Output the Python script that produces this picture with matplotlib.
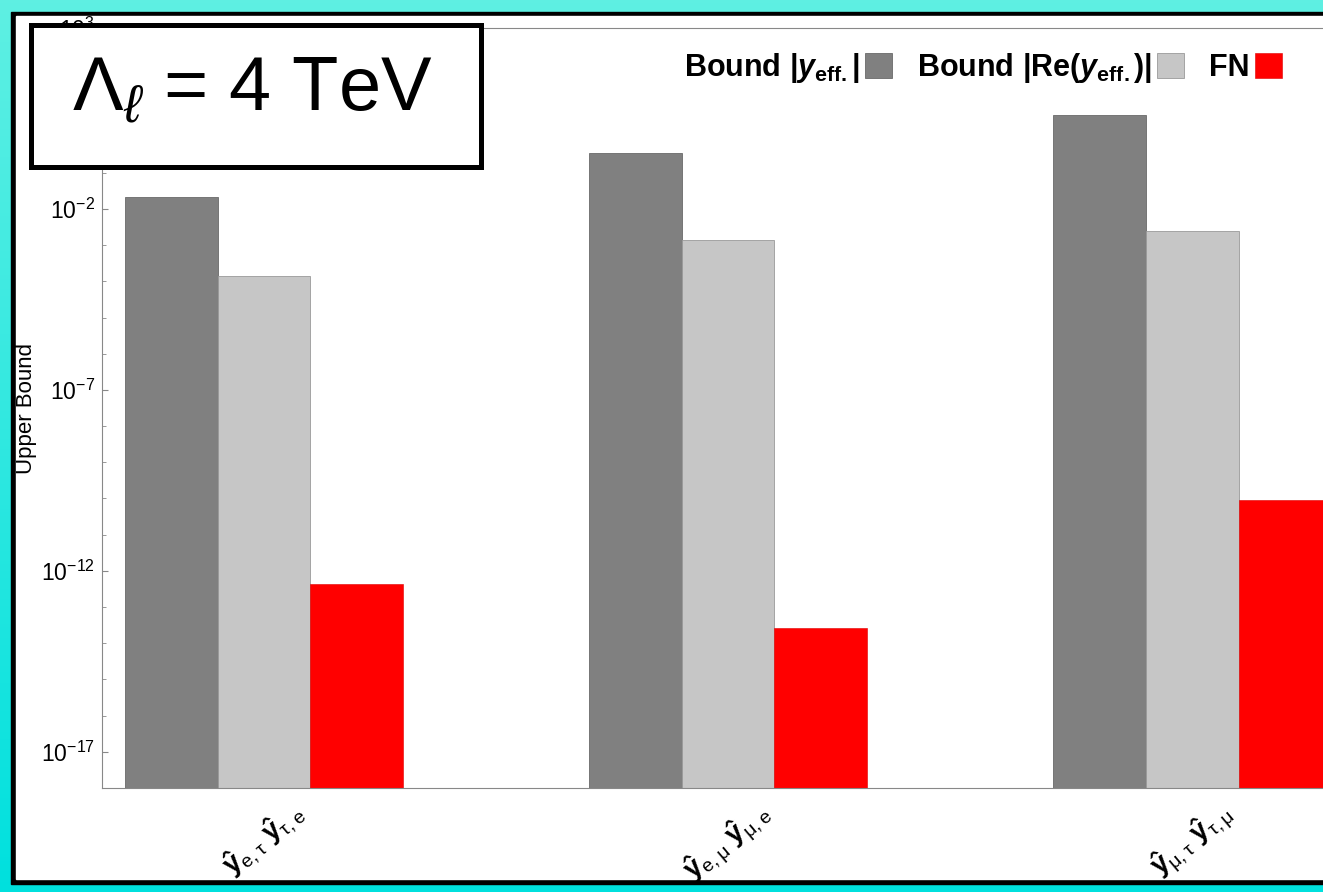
import numpy as np
import matplotlib
matplotlib.use("Agg")
import matplotlib.pyplot as plt
from matplotlib.patches import Rectangle

plt.rcParams["font.family"] = ["Liberation Sans", "DejaVu Sans"]
plt.rcParams["mathtext.fontset"] = "custom"
plt.rcParams["mathtext.rm"] = "Liberation Sans"
plt.rcParams["mathtext.it"] = "Liberation Sans:italic"
plt.rcParams["mathtext.bf"] = "Liberation Sans:bold"
plt.rcParams["mathtext.bfit"] = "Liberation Sans:bold:italic"

# data
pairs = [r"$\mathbf{\hat{y}}_{\mathrm{e,\tau}}\ \mathbf{\hat{y}}_{\mathrm{\tau,e}}$",
         r"$\mathbf{\hat{y}}_{\mathrm{e,\mu}}\ \mathbf{\hat{y}}_{\mathrm{\mu,e}}$",
         r"$\mathbf{\hat{y}}_{\mathrm{\mu,\tau}}\ \mathbf{\hat{y}}_{\mathrm{\tau,\mu}}$"]
bound_abs = [2.1e-2, 3.5e-1, 4.0]
bound_re = [1.4e-4, 1.4e-3, 2.45e-3]
fn_vals = [4.4e-13, 2.7e-14, 9.1e-11]
series_names = ["Bound |" + r"$\mathbfit{y}_{\mathbf{eff.}}$" + "|",
                "Bound |Re(" + r"$\mathbfit{y}_{\mathbf{eff.}}$" + ")|",
                "FN"]
title = r"$\Lambda_{\ell}$ = 4 TeV"

W, H = 1323, 892
fig = plt.figure(figsize=(W / 100, H / 100), dpi=100)


def fx(x):
    return x / W


def fy(y):
    return 1 - y / H


# background: cyan gradient, black frame, white page
bg = fig.add_axes([0, 0, 1, 1], zorder=-10)
grad = np.linspace(0, 1, 256).reshape(-1, 1)
top = np.array([0.37, 0.94, 0.89])
bot = np.array([0.0, 0.88, 0.87])
img = top + (bot - top) * grad[:, :, None]
bg.imshow(img, extent=[0, W, H, 0], aspect="auto")
bg.add_patch(Rectangle((11, 12), W + 10, 872, color="black"))
bg.add_patch(Rectangle((16, 16), W + 10, 863, color="white"))
bg.set_xlim(0, W)
bg.set_ylim(H, 0)
bg.axis("off")

ax = fig.add_axes([fx(102), fy(788), fx(1323) - fx(102), fy(28) - fy(788)])
x = np.arange(len(pairs))
w = 0.2
ax.bar(x - w, bound_abs, w, color="#808080", edgecolor="#6a6a6a", linewidth=0.6, label=series_names[0])
ax.bar(x, bound_re, w, color="#c6c6c6", edgecolor="#9a9a9a", linewidth=0.6, label=series_names[1])
ax.bar(x + w, fn_vals, w, color="#ff0000", edgecolor="#e00000", linewidth=0.4, label=series_names[2])

ax.set_yscale("log")
ax.set_ylim(1e-18, 1e3)
ax.set_xlim(-0.349, 2.282)
ax.set_yticks([10.0 ** k for k in range(-17, 4, 5)])
ax.set_yticks([10.0 ** k for k in range(-18, 4) if (k + 17) % 5 != 0], minor=True)
ax.yaxis.set_minor_formatter(matplotlib.ticker.NullFormatter())
ax.tick_params(axis="y", which="major", direction="in", length=4, width=0.8,
               color="#888888", labelsize=16.5, pad=5)
ax.tick_params(axis="y", which="minor", direction="in", length=3, width=0.6, color="#888888")
ax.set_xticks(x)
ax.set_xticklabels(pairs, rotation=40, ha="center", va="top", fontsize=20)
ax.tick_params(axis="x", length=0, pad=6)
for s in ["left", "bottom", "top"]:
    ax.spines[s].set_color("#888888")
    ax.spines[s].set_linewidth(0.8)
ax.spines["right"].set_visible(False)
ax.set_ylabel("Upper Bound", fontsize=16)
ax.yaxis.set_label_coords((37 - 102) / (1323 - 102), 0.5)

ax.legend(loc="center right", bbox_to_anchor=(fx(1282), fy(68)), bbox_transform=fig.transFigure,
          ncol=3, markerfirst=False, frameon=False, borderpad=0, borderaxespad=0,
          handlelength=0.9, handleheight=0.9, handletextpad=0.17, columnspacing=0.8,
          prop={"weight": "bold", "size": 22})

# boxed title
fig.add_artist(Rectangle((fx(30.5), fy(166.5)), fx(450), fy(0) - fy(141), transform=fig.transFigure,
                         facecolor="white", edgecolor="black", linewidth=3.6, zorder=5))
fig.text(fx(252), fy(110), title, fontsize=54.5, ha="center", va="baseline", zorder=6)

fig.savefig("out.png", dpi=100)
